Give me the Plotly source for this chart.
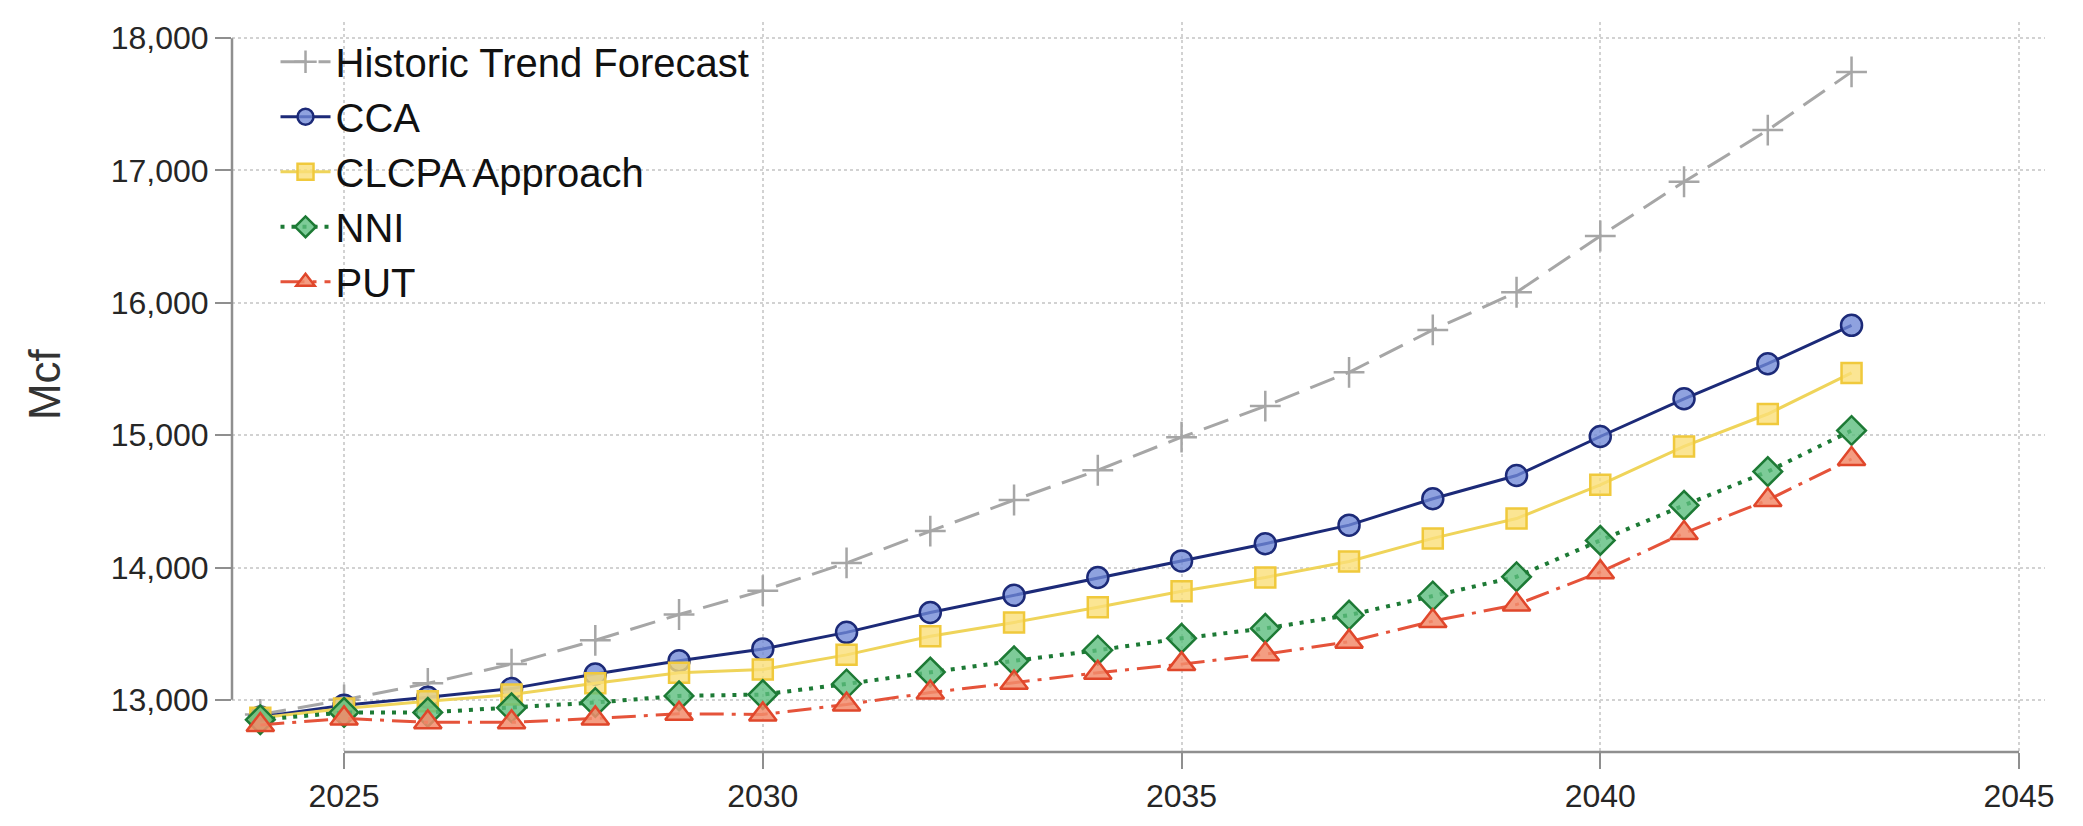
import plotly.graph_objects as go

# Annual gas demand projections, 2024-2043 (Mcf)
years = list(range(2024, 2044))

historic_trend = [12890, 13000, 13125, 13270, 13450, 13645, 13825, 14035, 14275, 14510,
                  14735, 14985, 15220, 15475, 15795, 16080, 16505, 16915, 17305, 17745]
cca = [12870, 12960, 13020, 13085, 13195, 13295, 13385, 13510, 13660, 13790,
       13925, 14050, 14180, 14320, 14520, 14695, 14990, 15275, 15540, 15830]
clcpa = [12865, 12935, 12990, 13040, 13125, 13205, 13230, 13340, 13480, 13585,
         13700, 13820, 13925, 14045, 14220, 14370, 14625, 14915, 15160, 15470]
nni = [12850, 12905, 12905, 12940, 12980, 13030, 13040, 13120, 13210, 13295,
       13375, 13465, 13540, 13640, 13785, 13930, 14205, 14470, 14725, 15035]
put = [12810, 12860, 12830, 12830, 12860, 12895, 12890, 12965, 13055, 13130,
       13205, 13270, 13345, 13440, 13595, 13720, 13965, 14260, 14510, 14820]

series_names = ["Historic Trend Forecast", "CCA", "CLCPA Approach", "NNI", "PUT"]

x_ticks = [2025, 2030, 2035, 2040, 2045]
y_ticks = [13000, 14000, 15000, 16000, 17000, 18000]

FONT = "Arial, Liberation Sans, Helvetica, sans-serif"
AXIS_GRAY = "#8f8f8f"
GRID_GRAY = "#d2d2d2"

styles = [
    dict(line=dict(color="#a6a6a6", width=3, dash="26px,12px"),
         marker=dict(symbol="cross-thin", size=22, color="#a6a6a6",
                     line=dict(color="#a6a6a6", width=2.5))),
    dict(line=dict(color="#1c2a78", width=3),
         marker=dict(symbol="circle", size=21, color="rgba(112,136,214,0.78)",
                     line=dict(color="#1c2a78", width=2.5))),
    dict(line=dict(color="#efd45a", width=3),
         marker=dict(symbol="square", size=20, color="rgba(250,222,120,0.8)",
                     line=dict(color="#f0c93c", width=2.5))),
    dict(line=dict(color="#1d7a35", width=4, dash="4px,7px"),
         marker=dict(symbol="diamond", size=22, color="rgba(92,190,126,0.8)",
                     line=dict(color="#1d7a35", width=2.5))),
    dict(line=dict(color="#e5533a", width=3, dash="24px,8px,4px,8px"),
         marker=dict(symbol="triangle-up", size=24, color="rgba(242,140,108,0.85)",
                     line=dict(color="#e0472b", width=2.5))),
]

values = [historic_trend, cca, clcpa, nni, put]

fig = go.Figure()
for i, (name, vals, st) in enumerate(zip(series_names, values, styles)):
    fig.add_trace(go.Scatter(
        x=years, y=vals, name=name, mode="lines+markers",
        legendgroup=f"g{i}", line=st["line"], marker=st["marker"],
    ))

axis_common = dict(
    showgrid=True, gridcolor=GRID_GRAY, gridwidth=2, griddash="dot",
    showline=False, zeroline=False,
    ticks="outside", ticklen=16, tickwidth=2, tickcolor=AXIS_GRAY,
    tickfont=dict(family=FONT, size=32, color="#262626"),
)

fig.update_xaxes(range=[2023.662, 2045.31], tickvals=x_ticks, **axis_common)
fig.update_yaxes(range=[12606, 18122], tickvals=y_ticks, tickformat=",", **axis_common)

# Axis lines that only span the labelled tick range
fig.add_shape(type="line", xref="x", yref="paper", x0=2025, x1=2045, y0=0, y1=0,
              line=dict(color=AXIS_GRAY, width=2.5))
fig.add_shape(type="line", xref="paper", yref="y", x0=0, x1=0, y0=13000, y1=18000,
              line=dict(color=AXIS_GRAY, width=2.5))

fig.add_annotation(text="Mcf", xref="paper", yref="paper", x=0, y=0.504,
                   xanchor="center", yanchor="middle", xshift=-188, textangle=-90,
                   showarrow=False, font=dict(family=FONT, size=44, color="#333333"))

fig.update_layout(
    width=2083, height=826,
    margin=dict(l=232, r=38, t=22, b=58),
    paper_bgcolor="white", plot_bgcolor="white",
    font=dict(family=FONT),
    legend=dict(x=0.024, y=0.99, xanchor="left", yanchor="top",
                bgcolor="rgba(255,255,255,0)", borderwidth=0,
                font=dict(family=FONT, size=40, color="#111111"),
                tracegroupgap=0, itemwidth=50),
    showlegend=True,
)

fig.write_html("out.html")
